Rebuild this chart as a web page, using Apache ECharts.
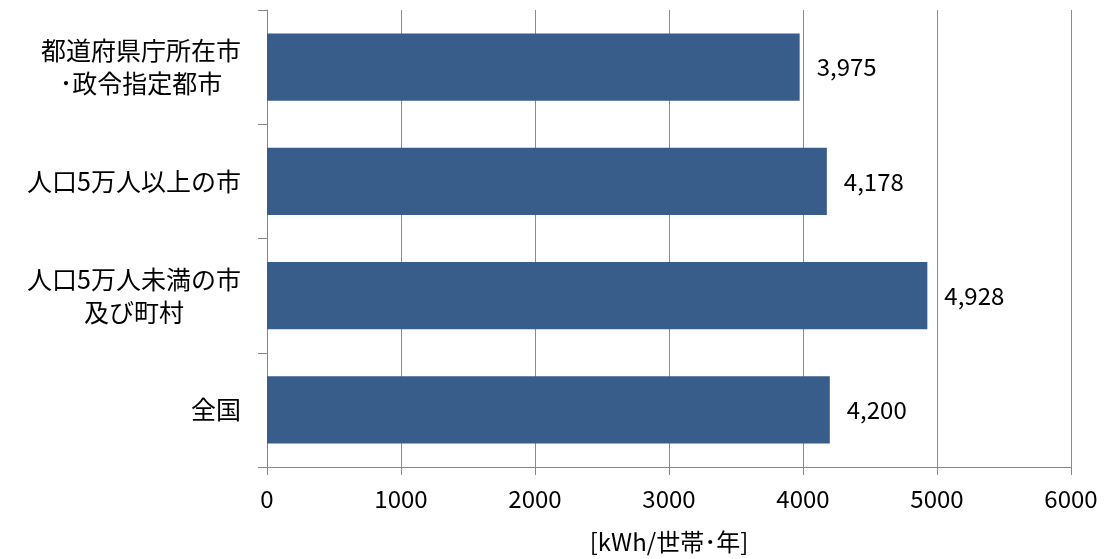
<!DOCTYPE html>
<html>
<head>
<meta charset="utf-8">
<script src="https://cdn.jsdelivr.net/npm/echarts@6/dist/echarts.min.js"></script>
<style>
html,body{margin:0;padding:0;background:#fff;}
#chart{width:1105px;height:559px;}
</style>
</head>
<body>
<div id="chart"></div>
<script>
const categories = [
  '都道府県庁所在市\n･政令指定都市',
  '人口5万人以上の市',
  '人口5万人未満の市\n及び町村',
  '全国'
];
const values = [3975, 4178, 4928, 4200];
const xTicks = [0, 1000, 2000, 3000, 4000, 5000, 6000];
const xAxisName = '[kWh/世帯･年]';

const FONT = '"Noto Sans CJK JP", "Noto Sans", sans-serif';
const chart = echarts.init(document.getElementById('chart'));
chart.setOption({
  animation: false,
  backgroundColor: '#ffffff',
  grid: { left: 267, right: 34, top: 10, bottom: 91, containLabel: false },
  xAxis: {
    type: 'value',
    min: xTicks[0],
    max: xTicks[xTicks.length - 1],
    interval: 1000,
    name: xAxisName,
    nameLocation: 'middle',
    nameGap: 63,
    nameTextStyle: { color: '#000', fontSize: 24, fontFamily: FONT },
    axisLine: { show: true, lineStyle: { color: '#868686', width: 1 } },
    axisTick: { show: true, length: 8, lineStyle: { color: '#868686' } },
    axisLabel: {
      color: '#000', fontSize: 24, fontFamily: FONT, margin: 20,
      formatter: v => String(v)
    },
    splitLine: { show: true, lineStyle: { color: '#8c8c8c', width: 1 } }
  },
  yAxis: {
    type: 'category',
    inverse: true,
    data: categories,
    axisLine: { show: true, lineStyle: { color: '#868686', width: 1 } },
    axisTick: { show: true, length: 9, lineStyle: { color: '#868686' } },
    axisLabel: {
      margin: 26,
      color: '#000',
      fontFamily: FONT,
      fontSize: 25,
      lineHeight: 33,
      formatter: function (v) {
        return v.split('\n').map(s => '{c|' + s + '}').join('\n');
      },
      rich: { c: { align: 'center', fontSize: 25, lineHeight: 33, fontFamily: FONT, color: '#000' } }
    },
    splitLine: { show: false }
  },
  series: [{
    type: 'bar',
    data: values,
    barCategoryGap: '41%',
    itemStyle: { color: '#385D8A' },
    label: {
      show: true,
      position: 'right',
      distance: 17,
      color: '#000',
      fontSize: 24,
      fontFamily: FONT,
      formatter: p => p.value.toString().replace(/\B(?=(\d{3})+(?!\d))/g, ',')
    }
  }]
});
</script>
</body>
</html>
